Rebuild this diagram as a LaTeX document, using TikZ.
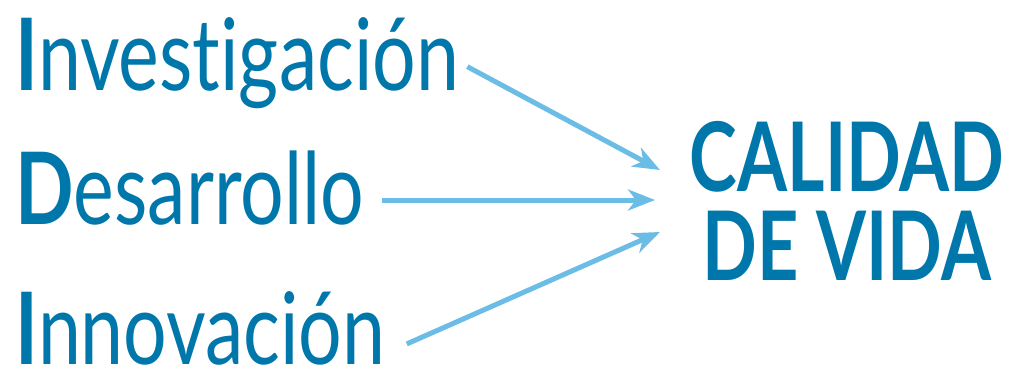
\documentclass[tikz,border=0pt]{standalone}
\usepackage{fontspec}
\setmainfont{Lato}
\newfontfamily\lemafont[FakeStretch=0.77,Ligatures=NoCommon]{Lato}
\newfontfamily\vidafont[FakeStretch=0.75]{Lato}
\usepackage{tikz}
\usetikzlibrary{arrows.meta,calc}

\definecolor{azul}{RGB}{0,119,170}
\definecolor{celeste}{RGB}{108,189,229}

\begin{document}
\begin{tikzpicture}[x=1pt,y=-1pt,
  lema/.style={anchor=base west, inner sep=0pt, text=azul,
    font=\lemafont\fontsize{100}{100}\selectfont},
  vida/.style={inner sep=0pt, text=azul, align=center,
    font=\vidafont\bfseries\fontsize{96}{89}\selectfont},
  flecha/.style={draw=celeste, line width=5pt,
    -{Stealth[length=27pt,width=21pt,inset=8pt]}}]
 \useasboundingbox (0,0) rectangle (1012,372);
 % left words
 \node[lema] (inv) at (15,90) {\textbf{I}nvestigación};
 \node[lema] (des) at (15,224) {\textbf{D}esarrollo};
 \node[lema] (inn) at (15,364) {\textbf{I}nnovación};
 % result
 \node[vida] (cv) at (847,201) {CALIDAD\\DE VIDA};
 \coordinate (p1) at (660,170);
 \coordinate (p2) at (655,200);
 \coordinate (p3) at (660,232);
 \draw[flecha] ($(inv.east)+(8,4)$) -- (p1);
 \draw[flecha] ($(des.east |- p2)+(18,0)$) -- (p2);
 \draw[flecha] ($(inn.east)+(21,16)$) -- (p3);
\end{tikzpicture}
\end{document}
